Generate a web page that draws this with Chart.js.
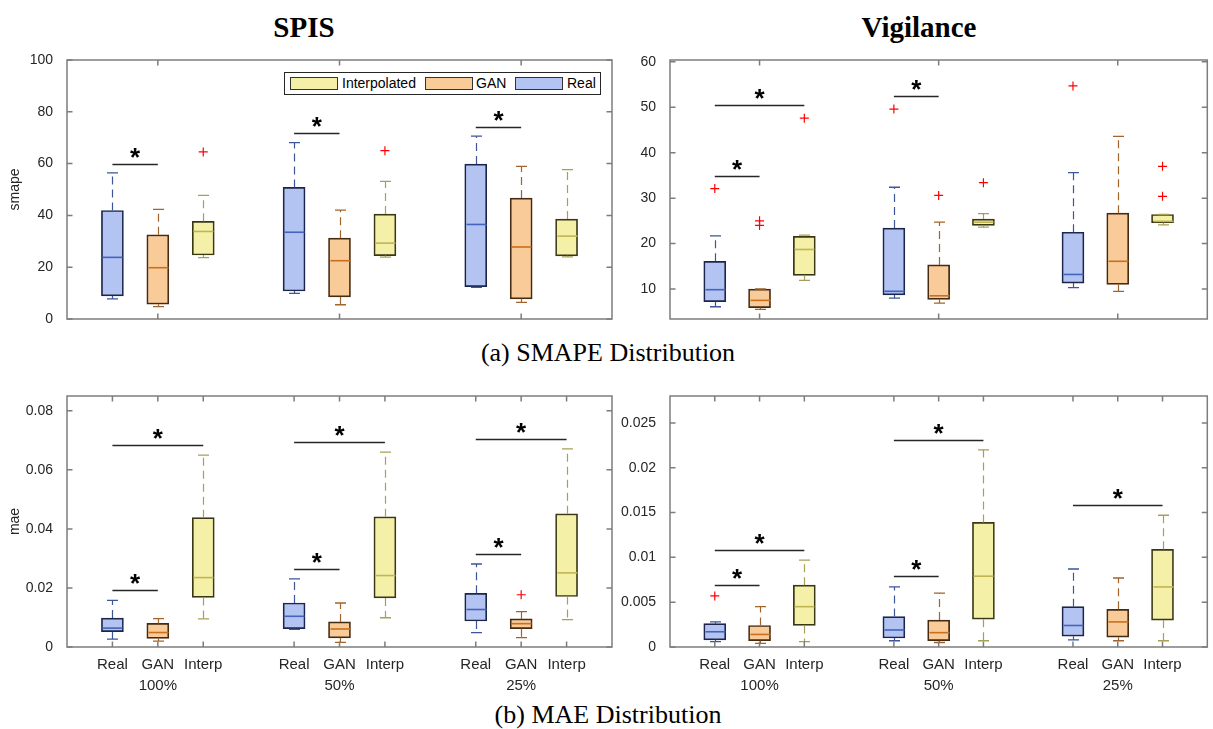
<!DOCTYPE html>
<html lang="en">
<head>
  <meta charset="UTF-8">
  <title>SMAPE and MAE distribution</title>
  <script src="https://cdn.jsdelivr.net/npm/chart.js"></script>
  <style>
    body {
      margin: 0;
      width: 1213px;
      height: 729px;
      position: relative;
      overflow: hidden;
      background: #fff;
      font-family: 'Liberation Sans', Arial, sans-serif;
    }
    .panel { position: absolute; }
    .title {
      position: absolute;
      transform: translateX(-50%);
      font-family: 'Liberation Serif', 'DejaVu Serif', serif;
      font-weight: bold;
      font-size: 29px;
      line-height: 29px;
      color: #000;
      white-space: nowrap;
    }
    .caption {
      position: absolute;
      transform: translateX(-50%);
      font-family: 'Liberation Serif', 'DejaVu Serif', serif;
      font-size: 26px;
      line-height: 26px;
      color: #000;
      white-space: nowrap;
    }
    .legend {
      position: absolute;
      left: 284px;
      top: 72px;
      width: 315px;
      height: 21px;
      border: 1px solid #262626;
      background: #fff;
      font-size: 14px;
      color: #000;
    }
    .legend span { position: absolute; }
    .legend .sw { top: 4px; width: 46px; height: 11px; border: 1.5px solid #333; }
    .legend .lb { top: 3px; line-height: 15px; }
  </style>
</head>
<body>

<div class="title" style="left:304px; top:13px">SPIS</div>
<div class="title" style="left:919px; top:13px">Vigilance</div>
<div class="caption" style="left:608px; top:340px">(a) SMAPE Distribution</div>
<div class="caption" style="left:608px; top:702px">(b) MAE Distribution</div>

<div class="panel" style="left:0; top:50px"><canvas id="spisSmape" width="620" height="290"></canvas></div>
<div class="panel" style="left:620px; top:50px"><canvas id="vigSmape" width="593" height="290"></canvas></div>
<div class="panel" style="left:0; top:386px"><canvas id="spisMae" width="620" height="314"></canvas></div>
<div class="panel" style="left:620px; top:386px"><canvas id="vigMae" width="593" height="314"></canvas></div>

<div class="legend" id="legend"></div>

<script>
const groups = ['100%', '50%', '25%'];
const methods = ['Real', 'GAN', 'Interp'];
const legendNames = ['Real', 'GAN', 'Interpolated'];

// each row: [lower whisker, q1, median, q3, upper whisker] for 100%, 50%, 25%
const spisSmapeReal = [[7.8, 8.9, 23.8, 41.9, 56.4], [9.9, 10.8, 33.5, 50.8, 68.1], [12.2, 12.5, 36.5, 59.8, 70.6]];
const spisSmapeGan = [[4.8, 5.7, 19.8, 32.5, 42.3], [5.5, 8.5, 22.5, 31.2, 42.0], [6.4, 7.8, 27.8, 46.7, 58.9]];
const spisSmapeInterp = [[23.7, 24.7, 33.8, 37.7, 47.7], [23.9, 24.5, 29.3, 40.5, 53.1], [24.0, 24.4, 32.0, 38.6, 57.7]];
const spisSmapeOutliers = [[[], [], []], [[], [], []], [[64.5], [65.0], []]];
// [group, from method, to method, bracket height]
const spisSmapeSig = [[0, 0, 1, 60.0], [1, 0, 1, 71.7], [2, 0, 1, 74.3]];

const vigSmapeReal = [[6.1, 7.2, 9.85, 16.1, 21.7], [8.0, 8.7, 9.5, 23.4, 32.4], [10.3, 11.3, 13.2, 22.5, 35.6]];
const vigSmapeGan = [[5.5, 5.9, 7.5, 10.0, 10.0], [6.9, 7.7, 8.5, 15.3, 24.7], [9.5, 11.0, 16.1, 26.7, 43.6]];
const vigSmapeInterp = [[11.9, 13.0, 18.7, 21.6, 21.85], [23.6, 24.0, 24.7, 25.4, 26.6], [24.1, 24.6, 24.9, 26.4, 26.4]];
const vigSmapeOutliers = [[[32.1], [49.6], [54.7]], [[25.0, 24.0], [30.6], []], [[47.6], [33.4], [37.0, 30.4]]];
const vigSmapeSig = [[0, 0, 2, 50.4], [0, 0, 1, 34.9], [1, 0, 1, 52.5]];

const spisMaeReal = [[0.0027, 0.0052, 0.0064, 0.0098, 0.0158], [0.0060, 0.0062, 0.0104, 0.0149, 0.0231], [0.0049, 0.0088, 0.0127, 0.0182, 0.0281]];
const spisMaeGan = [[0.0020, 0.0029, 0.0049, 0.0080, 0.0096], [0.0016, 0.0031, 0.0061, 0.0085, 0.0149], [0.0032, 0.0062, 0.0079, 0.0095, 0.0120]];
const spisMaeInterp = [[0.0095, 0.0168, 0.0235, 0.0438, 0.0650], [0.0099, 0.0166, 0.0242, 0.0441, 0.0660], [0.0093, 0.0171, 0.0251, 0.0451, 0.0671]];
const spisMaeOutliers = [[[], [], []], [[], [], [0.0177]], [[], [], []]];
const spisMaeSig = [[0, 0, 2, 0.0684], [0, 0, 1, 0.0192], [1, 0, 2, 0.0694], [1, 0, 1, 0.0263], [2, 0, 2, 0.0704], [2, 0, 1, 0.0315]];

const vigMaeReal = [[0.0006, 0.0008, 0.0017, 0.0026, 0.0028], [0.0007, 0.0010, 0.0019, 0.0034, 0.0067], [0.0008, 0.0012, 0.0024, 0.0045, 0.0087]];
const vigMaeGan = [[0.0004, 0.0007, 0.0014, 0.0024, 0.0045], [0.0005, 0.0007, 0.0016, 0.0030, 0.0060], [0.0007, 0.0011, 0.0028, 0.0042, 0.0077]];
const vigMaeInterp = [[0.0006, 0.0024, 0.0045, 0.0069, 0.0097], [0.0007, 0.0031, 0.0079, 0.0139, 0.0220], [0.0007, 0.0030, 0.0067, 0.0109, 0.0147]];
const vigMaeOutliers = [[[0.0057], [], []], [[], [], []], [[], [], []]];
const vigMaeSig = [[0, 0, 2, 0.0108], [0, 0, 1, 0.0069], [1, 0, 2, 0.0231], [1, 0, 1, 0.0079], [2, 0, 2, 0.0158]];

// axis ticks
const spisSmapeTicks = [0, 20, 40, 60, 80, 100];
const spisSmapeTickLabels = ['0', '20', '40', '60', '80', '100'];
const vigSmapeTicks = [10, 20, 30, 40, 50, 60];
const vigSmapeTickLabels = ['10', '20', '30', '40', '50', '60'];
const spisMaeTicks = [0, 0.02, 0.04, 0.06, 0.08];
const spisMaeTickLabels = ['0', '0.02', '0.04', '0.06', '0.08'];
const vigMaeTicks = [0, 0.005, 0.01, 0.015, 0.02, 0.025];
const vigMaeTickLabels = ['0', '0.005', '0.01', '0.015', '0.02', '0.025'];
const topRowXTicks = [2, 4, 6, 8, 10];
const boxXTicks = [1, 2, 3, 5, 6, 7, 9, 10, 11];

const style = [
  { fill: 'rgb(179,195,242)', edge: '#1c264c', median: '#4363bd', whisker: '#3d5599' },
  { fill: 'rgb(248,203,153)', edge: '#452b12', median: '#c8701f', whisker: '#a3642b' },
  { fill: 'rgb(245,240,168)', edge: '#3a3714', median: '#c0b552', whisker: '#a89f56' }
];
const axisColor = '#7d7d7d';
const textColor = '#262626';

Chart.defaults.font.family = "'Liberation Sans', Arial, sans-serif";

const slot = (g, m) => g * 4 + m + 1;

function boxPanel(id, opt) {
  const datasets = [];
  opt.stats.forEach((rows, m) => {
    datasets.push({
      type: 'bar',
      label: methods[m],
      data: rows.map((r, g) => ({ x: slot(g, m), y: [r[1], r[3]] })),
      backgroundColor: style[m].fill,
      borderColor: style[m].edge,
      borderWidth: 1.7,
      borderSkipped: false,
      barThickness: 22,
      grouped: false
    });
  });
  opt.outliers.forEach((rows, m) => {
    datasets.push({
      type: 'scatter',
      data: rows.flatMap((vals, g) => vals.map(v => ({ x: slot(g, m), y: v }))),
      pointStyle: 'cross',
      radius: 4.5,
      borderColor: '#ff0000',
      borderWidth: 1.2,
      backgroundColor: '#ff0000'
    });
  });

  // whiskers, caps, medians, significance brackets and the axes box
  const decor = {
    id: 'decor_' + id,
    afterDatasetsDraw(chart) {
      const { ctx, scales: { x, y } } = chart;
      ctx.save();
      opt.stats.forEach((rows, m) => {
        const meta = chart.getDatasetMeta(m);
        rows.forEach((r, g) => {
          const bar = meta.data[g];
          const cx = Math.round(bar.x) + 0.5;
          const half = bar.width / 2;
          const cap = half * 0.5;
          const [lo, q1, med, q3, hi] = r.map(v => y.getPixelForValue(v));
          ctx.strokeStyle = style[m].whisker;
          ctx.lineWidth = 1.2;
          ctx.setLineDash([8, 5]);
          ctx.beginPath();
          ctx.moveTo(cx, q3); ctx.lineTo(cx, hi);
          ctx.moveTo(cx, q1); ctx.lineTo(cx, lo);
          ctx.stroke();
          ctx.setLineDash([]);
          ctx.lineWidth = 1.3;
          ctx.beginPath();
          ctx.moveTo(cx - cap, hi); ctx.lineTo(cx + cap, hi);
          ctx.moveTo(cx - cap, lo); ctx.lineTo(cx + cap, lo);
          ctx.stroke();
          ctx.strokeStyle = style[m].median;
          ctx.lineWidth = 1.6;
          ctx.beginPath();
          ctx.moveTo(cx - half + 1, med); ctx.lineTo(cx + half - 1, med);
          ctx.stroke();
        });
      });
      ctx.strokeStyle = textColor;
      ctx.fillStyle = '#000';
      ctx.lineWidth = 1.5;
      ctx.font = "bold 26px 'Liberation Sans', Arial, sans-serif";
      ctx.textAlign = 'center';
      ctx.textBaseline = 'alphabetic';
      opt.sig.forEach(([g, a, b, level]) => {
        const x0 = x.getPixelForValue(slot(g, a));
        const x1 = x.getPixelForValue(slot(g, b));
        const yy = Math.round(y.getPixelForValue(level)) + 0.5;
        ctx.beginPath();
        ctx.moveTo(x0, yy); ctx.lineTo(x1, yy);
        ctx.stroke();
        ctx.fillText('*', (x0 + x1) / 2, yy + 1);
      });
      ctx.restore();
    },
    afterDraw(chart) {
      const { ctx, chartArea: a, scales: { x, y } } = chart;
      const tick = 5.5;
      ctx.save();
      ctx.strokeStyle = axisColor;
      ctx.lineWidth = 1.5;
      ctx.strokeRect(a.left, a.top, a.right - a.left, a.bottom - a.top);
      ctx.beginPath();
      y.ticks.forEach(t => {
        const py = y.getPixelForValue(t.value);
        ctx.moveTo(a.left, py); ctx.lineTo(a.left + tick, py);
        ctx.moveTo(a.right, py); ctx.lineTo(a.right - tick, py);
      });
      x.ticks.forEach(t => {
        const px = x.getPixelForValue(t.value);
        ctx.moveTo(px, a.bottom); ctx.lineTo(px, a.bottom - tick);
        ctx.moveTo(px, a.top); ctx.lineTo(px, a.top + tick);
      });
      ctx.stroke();
      ctx.restore();
    }
  };

  new Chart(document.getElementById(id), {
    type: 'bar',
    data: { datasets },
    plugins: [decor],
    options: {
      responsive: false,
      animation: false,
      events: [],
      layout: { padding: { top: 10, right: opt.padRight, left: 0, bottom: 0 } },
      plugins: { legend: { display: false }, tooltip: { enabled: false } },
      scales: {
        x: {
          type: 'linear',
          min: 0,
          max: 12,
          offset: false,
          grid: { display: false },
          border: { display: false },
          afterBuildTicks: s => { s.ticks = opt.xTicks.map(v => ({ value: v })); },
          // fixed axis size so the plot box sits at the same place in every panel
          afterFit: s => { s.height = opt.xHeight; s.paddingLeft = 0; s.paddingRight = 0; },
          ticks: {
            display: opt.showXLabels,
            autoSkip: false,
            maxRotation: 0,
            padding: 0,
            color: textColor,
            font: { size: 15, lineHeight: 1.35 },
            callback: v => {
              const m = (v - 1) % 4;
              const g = Math.floor((v - 1) / 4);
              return m === 1 ? [methods[m], groups[g]] : methods[m];
            }
          }
        },
        y: {
          min: opt.yMin,
          max: opt.yMax,
          grid: { display: false },
          border: { display: false },
          afterBuildTicks: s => { s.ticks = opt.yTicks.map(v => ({ value: v })); },
          afterFit: s => { s.width = opt.yWidth; s.paddingTop = 0; s.paddingBottom = 0; },
          ticks: {
            padding: 6,
            color: textColor,
            font: { size: 14 },
            callback: (v, i) => opt.yTickLabels[i]
          },
          title: {
            display: !!opt.yTitle,
            text: opt.yTitle || '',
            color: textColor,
            font: { size: 14 },
            padding: { top: 7, bottom: 0 }
          }
        }
      }
    }
  });
}

boxPanel('spisSmape', {
  stats: [spisSmapeReal, spisSmapeGan, spisSmapeInterp],
  outliers: spisSmapeOutliers, sig: spisSmapeSig,
  yMin: 0, yMax: 100, yTicks: spisSmapeTicks, yTickLabels: spisSmapeTickLabels,
  yTitle: 'smape', yWidth: 67, padRight: 8,
  xTicks: topRowXTicks, showXLabels: false, xHeight: 21
});
boxPanel('vigSmape', {
  stats: [vigSmapeReal, vigSmapeGan, vigSmapeInterp],
  outliers: vigSmapeOutliers, sig: vigSmapeSig,
  yMin: 3.4, yMax: 60.4, yTicks: vigSmapeTicks, yTickLabels: vigSmapeTickLabels,
  yWidth: 50, padRight: 0,
  xTicks: topRowXTicks, showXLabels: false, xHeight: 21
});
boxPanel('spisMae', {
  stats: [spisMaeReal, spisMaeGan, spisMaeInterp],
  outliers: spisMaeOutliers, sig: spisMaeSig,
  yMin: 0, yMax: 0.085, yTicks: spisMaeTicks, yTickLabels: spisMaeTickLabels,
  yTitle: 'mae', yWidth: 67, padRight: 8,
  xTicks: boxXTicks, showXLabels: true, xHeight: 53
});
boxPanel('vigMae', {
  stats: [vigMaeReal, vigMaeGan, vigMaeInterp],
  outliers: vigMaeOutliers, sig: vigMaeSig,
  yMin: 0, yMax: 0.028, yTicks: vigMaeTicks, yTickLabels: vigMaeTickLabels,
  yWidth: 50, padRight: 0,
  xTicks: boxXTicks, showXLabels: true, xHeight: 53
});

// legend entries run Interpolated, GAN, Real from left to right
const legend = document.getElementById('legend');
const legendSlots = [[230, 282], [140, 191], [5, 57]];
legendNames.forEach((name, m) => {
  const [sx, tx] = legendSlots[m];
  legend.innerHTML +=
    `<span class="sw" style="left:${sx}px; background:${style[m].fill}"></span>` +
    `<span class="lb" style="left:${tx}px">${name}</span>`;
});
</script>

</body>
</html>
